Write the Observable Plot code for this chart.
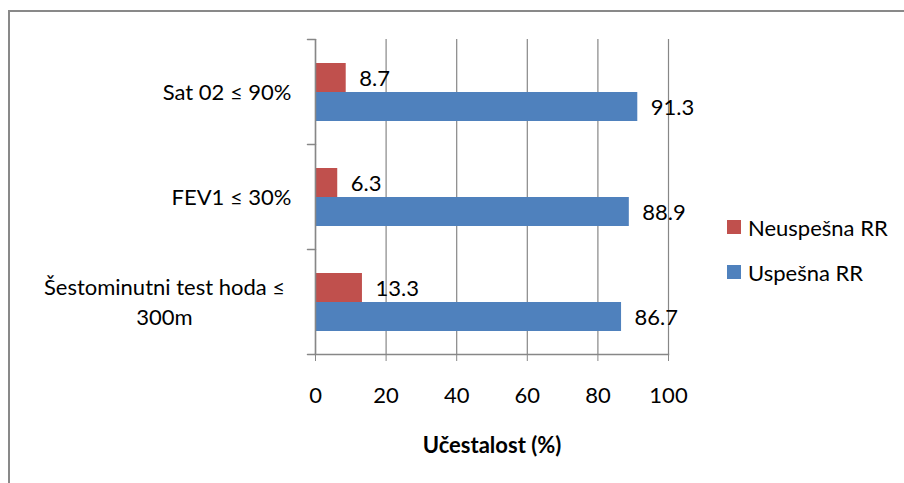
<!DOCTYPE html>
<html><head><meta charset="utf-8">
<script src="https://cdn.jsdelivr.net/npm/d3@7"></script>
<script src="https://cdn.jsdelivr.net/npm/@observablehq/plot@0.6"></script>
<style>
html,body{margin:0;padding:0;background:#fff;overflow:hidden}
#wrap{position:relative;width:904px;height:483px;font-family:Lato,sans-serif;overflow:hidden}
#border{position:absolute;left:8px;top:10px;width:1000px;height:1000px;border-left:2px solid #898989;border-top:2px solid #898989;box-sizing:border-box}
#chart{position:absolute;left:0;top:0}
.leg{position:absolute;left:727px;height:30px;display:flex;align-items:center;font-size:22px;color:#000;white-space:nowrap}
.leg span.sw{display:inline-block;width:14px;height:14px;margin-right:7px}
g[aria-label="x-axis label"] text{font-weight:bold}
</style></head><body>
<div id="wrap"><div id="border"></div><div id="chart"></div><div id="legend"></div></div>
<script>
const categories = ["Sat 02 ≤ 90%", "FEV1 ≤ 30%", "Šestominutni test hoda ≤ 300m"];
const categoryLabels = ["Sat 02 ≤ 90%", "FEV1 ≤ 30%", "Šestominutni test hoda ≤\n300m"];
const series = ["Neuspešna RR", "Uspešna RR"];
const neuspesna = [8.7, 6.3, 13.3];
const uspesna = [91.3, 88.9, 86.7];
const xTicks = [0, 20, 40, 60, 80, 100];
const colors = ["#C0504D", "#4F81BD"];
const xLabel = "Učestalost (%)";

const data = categories.flatMap((c, i) => [
  {category: c, series: series[0], value: neuspesna[i]},
  {category: c, series: series[1], value: uspesna[i]}
]);
const labelRows = categories.map((c, i) => ({category: c, label: categoryLabels[i]}));
const grey = "#878787";
const tickShape = {draw(context, l) { context.moveTo(0, 0); context.lineTo(0, -l); }};

const chart = Plot.plot({
  width: 904, height: 483,
  marginLeft: 315, marginRight: 236, marginTop: 38, marginBottom: 129,
  style: {fontFamily: "Lato, sans-serif", fontSize: "22px", color: "#000", background: "transparent", overflow: "visible"},
  x: {domain: [0, 100], axis: null},
  fy: {domain: categories, padding: 0, axis: null},
  y: {domain: series, paddingInner: 0, paddingOuter: 0.7555, axis: null},
  color: {domain: series, range: colors},
  marks: [
    Plot.ruleX(xTicks, {stroke: grey, strokeWidth: 1.2}),
    Plot.barX(data, {fy: "category", y: "series", x: "value", fill: "series"}),
    Plot.ruleX([xTicks[0]], {stroke: grey, strokeWidth: 1.5}),
    Plot.text(data, {fy: "category", y: "series", x: "value", text: d => d.value.toFixed(1), textAnchor: "start", dx: 13, dy: 1, fill: "#000"}),
    Plot.text(labelRows.filter(d => !d.label.includes("\n")), {fy: "category", text: "label", frameAnchor: "left", textAnchor: "end", dx: -24, dy: 1, fill: "#000"}),
    Plot.text(labelRows.filter(d => d.label.includes("\n")), {fy: "category", text: "label", frameAnchor: "left", textAnchor: "middle", dx: -151, dy: -2, lineHeight: 1.36, fill: "#000"}),
    Plot.vector(categories, {fy: d => d, x: () => xTicks[0], frameAnchor: "top", length: 8, rotate: -90, anchor: "start", shape: tickShape, stroke: grey, strokeWidth: 1.5}),
    Plot.vector([categories[categories.length - 1]], {fy: d => d, x: () => xTicks[0], frameAnchor: "bottom", length: 8, rotate: -90, anchor: "start", shape: tickShape, stroke: grey, strokeWidth: 1.5}),
    Plot.frame({anchor: "bottom", fy: () => categories[categories.length - 1], stroke: grey, strokeWidth: 1.5}),
    Plot.axisX({ticks: xTicks, tickSize: 7, tickPadding: 26, stroke: grey, fill: "#000", label: xLabel, labelAnchor: "center", labelOffset: 98, labelArrow: "none", facetAnchor: "bottom"})
  ]
});
document.getElementById("chart").appendChild(chart);

const legend = document.getElementById("legend");
series.forEach((s, i) => {
  const item = document.createElement("div");
  item.className = "leg";
  item.style.top = (212 + i * 45) + "px";
  item.innerHTML = `<span class="sw" style="background:${colors[i]}"></span><span>${s}</span>`;
  legend.appendChild(item);
});
</script>
</body></html>
